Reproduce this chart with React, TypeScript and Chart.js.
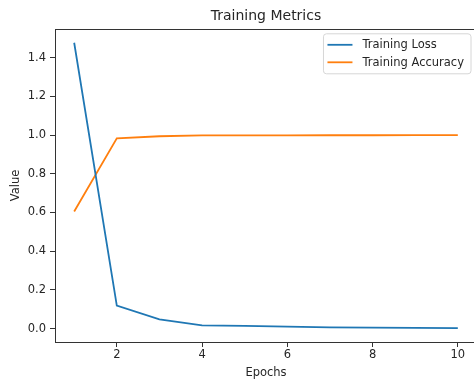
import React, { useEffect, useRef } from "react";
import { Chart, registerables } from "chart.js";

Chart.register(...registerables);

const epochs = [1, 2, 3, 4, 5, 6, 7, 8, 9, 10];
const trainingLoss = [1.477, 0.119, 0.048, 0.017, 0.014, 0.010, 0.007, 0.005, 0.004, 0.003];
const trainingAccuracy = [0.605, 0.983, 0.994, 0.998, 0.998, 0.998, 0.999, 0.999, 1.0, 1.0];
const xTicks = [2, 4, 6, 8, 10];
const yTicks = [0, 0.2, 0.4, 0.6, 0.8, 1.0, 1.2, 1.4];
const seriesLabels = ["Training Loss", "Training Accuracy"];
const seriesColors = ["#1f77b4", "#ff7f0e"];
const chartTitle = "Training Metrics";
const xTitle = "Epochs";
const yTitle = "Value";

const FONT = "'DejaVu Sans', sans-serif";
const TEXT = "#262626";
const FS = 11.5;

const spinesPlugin = {
  id: "spines",
  afterDatasetsDraw(chart: any) {
    const { ctx, chartArea } = chart;
    ctx.save();
    ctx.strokeStyle = "#333";
    ctx.lineWidth = 1;
    ctx.strokeRect(
      Math.round(chartArea.left) + 0.5,
      Math.round(chartArea.top) + 0.5,
      Math.round(chartArea.right - chartArea.left),
      Math.round(chartArea.bottom - chartArea.top)
    );
    ctx.restore();
  },
};

const legendPlugin = {
  id: "mplLegend",
  afterDraw(chart: any) {
    const { ctx, chartArea } = chart;
    const ds = chart.data.datasets;
    ctx.save();
    ctx.font = `${FS}px ${FONT}`;
    let textW = 0;
    ds.forEach((d: any) => {
      textW = Math.max(textW, ctx.measureText(d.label).width);
    });
    const right = chartArea.right - 6;
    const top = chartArea.top + 5;
    const w = textW + 46;
    const left = right - w;
    const rowH = 17.5;
    const h = 40;
    const r = 3;
    ctx.beginPath();
    ctx.moveTo(left + r, top);
    ctx.lineTo(right - r, top);
    ctx.quadraticCurveTo(right, top, right, top + r);
    ctx.lineTo(right, top + h - r);
    ctx.quadraticCurveTo(right, top + h, right - r, top + h);
    ctx.lineTo(left + r, top + h);
    ctx.quadraticCurveTo(left, top + h, left, top + h - r);
    ctx.lineTo(left, top + r);
    ctx.quadraticCurveTo(left, top, left + r, top);
    ctx.closePath();
    ctx.fillStyle = "rgba(255,255,255,0.8)";
    ctx.fill();
    ctx.strokeStyle = "#d6d6d6";
    ctx.lineWidth = 1;
    ctx.stroke();
    ds.forEach((d: any, i: number) => {
      const y = top + 11 + i * rowH;
      ctx.beginPath();
      ctx.strokeStyle = d.borderColor;
      ctx.lineWidth = 1.8;
      ctx.moveTo(left + 4, y);
      ctx.lineTo(left + 29, y);
      ctx.stroke();
      ctx.fillStyle = TEXT;
      ctx.textBaseline = "middle";
      ctx.textAlign = "left";
      ctx.fillText(d.label, left + 39, y + 0.5);
    });
    ctx.restore();
  },
};

export default function App() {
  const ref = useRef<HTMLCanvasElement | null>(null);

  useEffect(() => {
    if (!ref.current) return;
    const series = [trainingLoss, trainingAccuracy];
    const chart = new Chart(ref.current, {
      type: "line",
      data: {
        datasets: series.map((vals, i) => ({
          label: seriesLabels[i],
          data: epochs.map((e, j) => ({ x: e, y: vals[j] })),
          borderColor: seriesColors[i],
          backgroundColor: seriesColors[i],
          borderWidth: 1.8,
          pointRadius: 0,
          tension: 0,
          fill: false,
        })),
      },
      options: {
        responsive: false,
        animation: false,
        layout: { padding: { top: 0, right: 3, bottom: 0, left: 0 } },
        plugins: {
          legend: { display: false },
          tooltip: { enabled: false },
          title: {
            display: true,
            text: chartTitle,
            fullSize: false,
            color: TEXT,
            font: { family: FONT, size: 14, weight: "normal" },
            padding: { top: 8, bottom: 4 },
          },
        },
        scales: {
          x: {
            type: "linear",
            min: 0.55,
            max: 10.45,
            afterBuildTicks: (s: any) => {
              s.ticks = xTicks.map((v) => ({ value: v }));
            },
            afterFit: (s: any) => {
              s.height = 38;
            },
            grid: {
              drawOnChartArea: false,
              drawTicks: true,
              tickLength: 5,
              color: "#333",
            },
            border: { display: false },
            ticks: {
              color: TEXT,
              font: { family: FONT, size: FS },
              padding: 1,
              maxRotation: 0,
              callback: (v: any) => String(v),
            },
            title: {
              display: true,
              text: xTitle,
              color: TEXT,
              font: { family: FONT, size: FS },
              padding: { top: 2, bottom: 0 },
            },
          },
          y: {
            type: "linear",
            min: -0.069,
            max: 1.549,
            afterBuildTicks: (s: any) => {
              s.ticks = yTicks.map((v) => ({ value: v }));
            },
            afterFit: (s: any) => {
              s.width = 55;
            },
            grid: {
              drawOnChartArea: false,
              drawTicks: true,
              tickLength: 5,
              color: "#333",
            },
            border: { display: false },
            ticks: {
              color: TEXT,
              font: { family: FONT, size: FS },
              padding: 4,
              callback: (v: any) => Number(v).toFixed(1),
            },
            title: {
              display: true,
              text: yTitle,
              color: TEXT,
              font: { family: FONT, size: FS },
              padding: { top: 9, bottom: 0 },
            },
          },
        },
      },
      plugins: [spinesPlugin, legendPlugin],
    } as any);
    return () => chart.destroy();
  }, []);

  return (
    <div
      style={{
        position: "fixed",
        left: 0,
        top: 0,
        width: 474,
        height: 380,
        overflow: "hidden",
        background: "#fff",
      }}
    >
      <canvas ref={ref} width={480} height={380} style={{ display: "block" }} />
    </div>
  );
}
